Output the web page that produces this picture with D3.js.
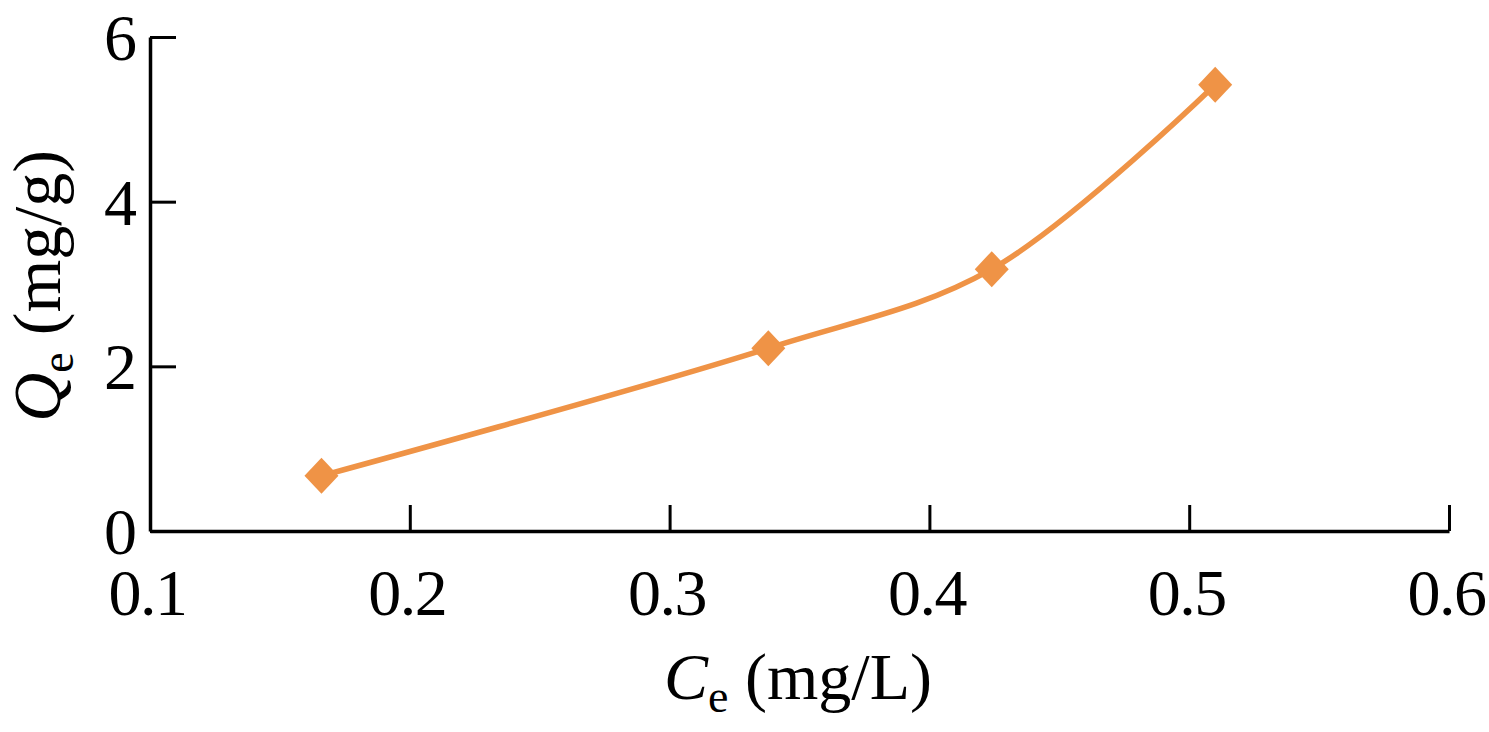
<!DOCTYPE html>
<html><head><meta charset="utf-8">
<script src="https://cdn.jsdelivr.net/npm/d3@7"></script>
<style>body{margin:0;background:#fff}svg{display:block}text{font-family:"Liberation Serif","Times New Roman",serif;fill:#000}</style>
</head><body><svg id="c" width="1489" height="732"></svg>
<script>
const ceValues = [0.166, 0.338, 0.424, 0.510];
const qeValues = [0.67, 2.22, 3.18, 5.42];
const xTicks = [0.1, 0.2, 0.3, 0.4, 0.5, 0.6];
const yTicks = [0, 2, 4, 6];

const svg = d3.select("#c");
const x = d3.scaleLinear().domain([0.1, 0.6]).range([150, 1449]);
const y = d3.scaleLinear().domain([0, 6]).range([531, 37]);
const color = "#EF9346";

const g = svg.append("g");
const xa = g.append("g").attr("transform", "translate(0,531)")
  .call(d3.axisBottom(x).tickValues(xTicks).tickSize(-26).tickSizeOuter(0).tickFormat(d3.format(".1f")));
const ya = g.append("g").attr("transform", "translate(150,0)")
  .call(d3.axisLeft(y).tickValues(yTicks).tickSize(-26).tickSizeOuter(0).tickFormat(d3.format("d")));
[xa, ya].forEach(a => {
  a.select(".domain").attr("stroke", "#000").attr("stroke-width", 3.5);
  a.selectAll(".tick line").attr("stroke", "#000").attr("stroke-width", 3);
  a.selectAll(".tick text").attr("font-size", 66).attr("font-family", "Liberation Serif").attr("fill", "#000");
});
xa.selectAll(".tick text").attr("dy", null).attr("y", 84).attr("letter-spacing", -1.5).attr("dx", -3);
ya.selectAll(".tick text").attr("x", -13).attr("dy", "0.34em");

const pts = ceValues.map((c, i) => [c, qeValues[i]]);
g.append("path").datum(pts)
  .attr("fill", "none").attr("stroke", color).attr("stroke-width", 5.5)
  .attr("d", d3.line().x(d => x(d[0])).y(d => y(d[1])).curve(d3.curveCatmullRom.alpha(0.5)));
g.selectAll(".m").data(pts).enter().append("path")
  .attr("fill", color)
  .attr("transform", d => `translate(${x(d[0])},${y(d[1])})`)
  .attr("d", "M0,-18L17,0L0,18L-17,0Z");

const xt = svg.append("text").attr("x", 798).attr("y", 699).attr("text-anchor", "middle").attr("font-size", 66);
xt.append("tspan").attr("font-style", "italic").text("C");
xt.append("tspan").attr("font-size", 46).attr("dy", 13).text("e");
xt.append("tspan").attr("dy", -13).text(" (mg/L)");

const yt = svg.append("text").attr("transform", "translate(60,286) rotate(-90)").attr("text-anchor", "middle").attr("font-size", 68);
yt.append("tspan").attr("font-style", "italic").text("Q");
yt.append("tspan").attr("font-size", 46).attr("dy", 13).text("e");
yt.append("tspan").attr("dy", -13).text(" (mg/g)");
</script></body></html>
